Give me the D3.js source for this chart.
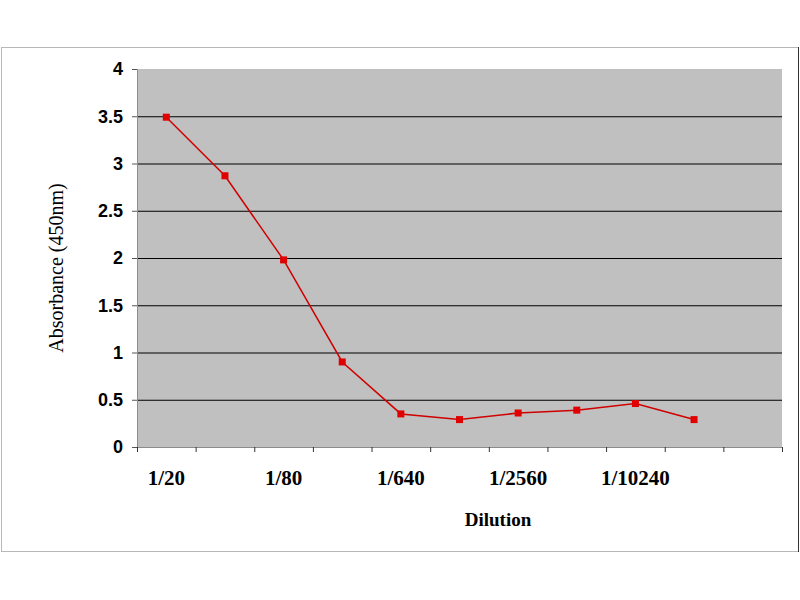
<!DOCTYPE html>
<html>
<head>
<meta charset="utf-8">
<script src="https://cdn.jsdelivr.net/npm/d3@7"></script>
<style>
	body { margin: 0; background: #fff; }
	svg { display: block; }
</style>
</head>
<body>
<div id="chart"></div>
<script>
// dilution categories (only every other one is labelled on the axis)
var categories = ["1/20", "1/40", "1/80", "1/320", "1/640", "1/1280", "1/2560", "1/5120", "1/10240", "1/20480", ""];
var absorbance = [3.49, 2.87, 1.98, 0.90, 0.35, 0.29, 0.36, 0.39, 0.46, 0.29];
var yTicks = [0, 0.5, 1, 1.5, 2, 2.5, 3, 3.5, 4];
var gridValues = [0.5, 1, 1.5, 2, 2.5, 3, 3.5];

var W = 800, H = 600;
var margin = { top: 69, left: 137, right: 18, bottom: 153 },
	width = W - margin.left - margin.right,
	height = H - margin.top - margin.bottom;

var svg = d3.select("#chart").append("svg")
	.attr("width", W)
	.attr("height", H);

// outer chart frame
svg.append("rect")
	.attr("x", 1.5).attr("y", 47.5)
	.attr("width", 797).attr("height", 504)
	.attr("fill", "#fff")
	.attr("stroke", "#b8b8b8");
svg.append("line")
	.attr("x1", 798.5).attr("x2", 798.5)
	.attr("y1", 47).attr("y2", 552)
	.attr("stroke", "#333");

var g = svg.append("g")
	.attr("transform", "translate(" + margin.left + "," + margin.top + ")");

var x = d3.scaleBand()
	.domain(categories.map(function (d, i) { return i; }))
	.range([0, width])
	.padding(0);

var xEdge = d3.scaleLinear()
	.domain([0, categories.length])
	.range([0, width]);

var y = d3.scaleLinear()
	.domain([0, 4])
	.range([height, 0]);

g.append("rect")
	.attr("width", width)
	.attr("height", height)
	.attr("fill", "#c0c0c0");

// gridlines
g.append("g")
	.call(d3.axisLeft(y).tickValues(gridValues).tickSize(-width).tickFormat(""))
	.call(function (s) {
		s.select(".domain").remove();
		s.selectAll("line").attr("stroke", "#000").attr("stroke-width", 1);
	});

// y axis
g.append("g")
	.call(d3.axisLeft(y).tickValues(yTicks).tickSize(5).tickPadding(9).tickFormat(d3.format("")))
	.call(function (s) {
		s.select(".domain").attr("stroke", "#8c8c8c");
		s.selectAll(".tick line").attr("stroke", "#555");
		s.selectAll("text")
			.attr("font-family", "Liberation Sans, Arial, sans-serif")
			.attr("font-weight", "bold")
			.attr("font-size", 18)
			.attr("fill", "#000");
	});

// x axis: tick marks at category edges
g.append("g")
	.attr("transform", "translate(0," + height + ")")
	.call(d3.axisBottom(xEdge).tickValues(d3.range(categories.length + 1)).tickSize(5).tickFormat(""))
	.call(function (s) {
		s.select(".domain").attr("stroke", "#8c8c8c");
		s.selectAll(".tick line").attr("stroke", "#333");
	});

// x axis: category labels (every other)
g.append("g")
	.attr("transform", "translate(0," + height + ")")
	.call(d3.axisBottom(x).tickSize(0).tickPadding(23).tickFormat(function (i) {
		return i % 2 === 0 ? categories[i] : "";
	}))
	.call(function (s) {
		s.select(".domain").remove();
		s.selectAll("text")
			.attr("font-family", "Liberation Serif, Times New Roman, serif")
			.attr("font-weight", "bold")
			.attr("font-size", 21)
			.attr("fill", "#000");
	});

var line = d3.line()
	.x(function (d, i) { return x(i) + x.bandwidth() / 2; })
	.y(function (d) { return y(d); });

g.append("path")
	.datum(absorbance)
	.attr("fill", "none")
	.attr("stroke", "#d00000")
	.attr("stroke-width", 1.5)
	.attr("d", line);

g.selectAll(".marker")
	.data(absorbance)
	.enter().append("rect")
	.attr("class", "marker")
	.attr("x", function (d, i) { return x(i) + x.bandwidth() / 2 - 3.5; })
	.attr("y", function (d) { return y(d) - 3.5; })
	.attr("width", 7)
	.attr("height", 7)
	.attr("fill", "#e00000");

// axis titles
svg.append("text")
	.attr("transform", "translate(63,268) rotate(-90)")
	.attr("text-anchor", "middle")
	.attr("font-family", "Liberation Serif, Times New Roman, serif")
	.attr("font-size", 20)
	.text("Absorbance (450nm)");

svg.append("text")
	.attr("x", 498)
	.attr("y", 526)
	.attr("text-anchor", "middle")
	.attr("font-family", "Liberation Serif, Times New Roman, serif")
	.attr("font-weight", "bold")
	.attr("font-size", 19)
	.text("Dilution");
</script>
</body>
</html>
